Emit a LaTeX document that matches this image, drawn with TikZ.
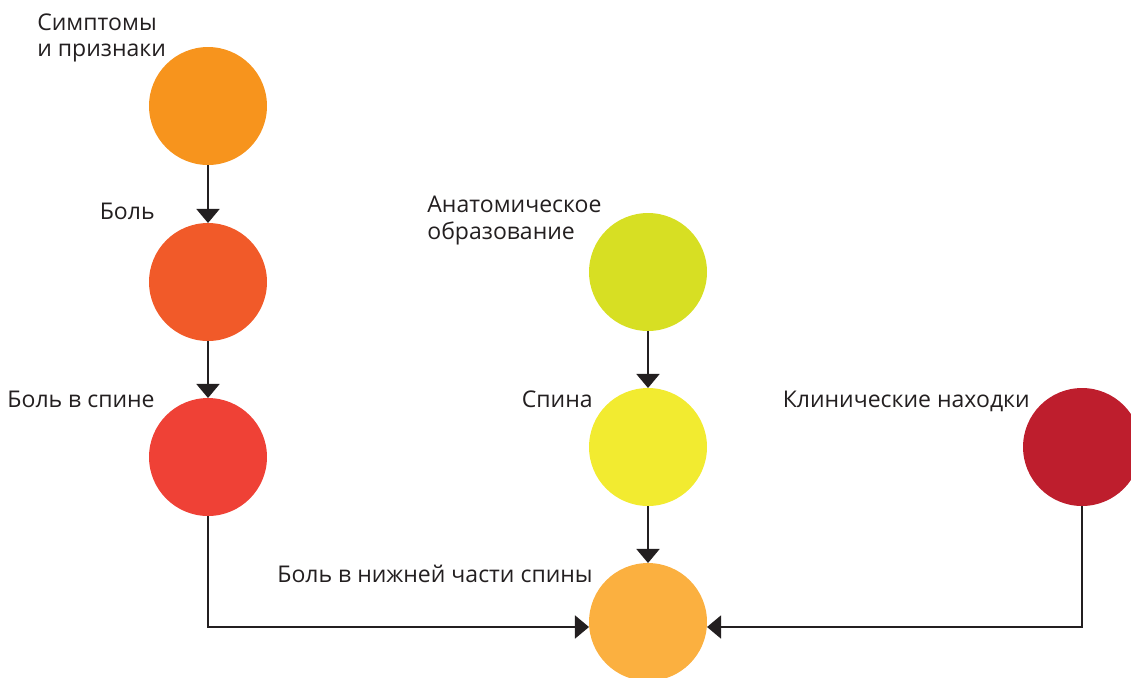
\documentclass[tikz,border=0pt]{standalone}
\usepackage{fontspec}
\setmainfont{Open Sans}
\usetikzlibrary{arrows.meta,positioning}
\definecolor{ink}{HTML}{231F20}
\definecolor{symp}{HTML}{F7941D}
\definecolor{pain}{HTML}{F15A29}
\definecolor{back}{HTML}{EF4136}
\definecolor{anat}{HTML}{D7DF23}
\definecolor{spine}{HTML}{F2EB30}
\definecolor{lowb}{HTML}{FBB040}
\definecolor{clin}{HTML}{BE1E2D}
\tikzset{
  >={Triangle[width=13pt,length=8pt]},
  dot/.style={circle,fill=#1,minimum size=2.36cm,inner sep=0pt,outer sep=0pt},
  tag/.style={font=\fontsize{13.1}{15.3}\selectfont,text=ink,align=left,inner sep=0pt},
  flow/.style={->,draw=ink,line width=1.4pt},
}
\begin{document}
\begin{tikzpicture}[x=0.02cm,y=-0.02cm]
  \useasboundingbox (0,0) rectangle (1131,677);
  % left column
  \node[dot=symp] (symp) at (208,106) {};
  \node[dot=pain] (pain) at (208,282) {};
  \node[dot=back] (back) at (208,457) {};
  % middle column
  \node[dot=anat] (anat) at (648,272) {};
  \node[dot=spine] (spine) at (648,447) {};
  \node[dot=lowb] (low) at (648,622) {};
  % right
  \node[dot=clin] (clin) at (1082,447) {};
  % labels
  \node[tag,anchor=north west] (symptxt) at (37,13) {Симптомы\\и признаки};
  \node[tag,anchor=base east] (paintxt) at (155,219) {Боль};
  \node[tag,anchor=base east] (backtxt) at (155,407) {Боль в спине};
  \node[tag,anchor=north west] (anattxt) at (427,196) {Анатомическое\\образование};
  \node[tag,anchor=base east] (spinetxt) at (593,407) {Спина};
  \node[tag,anchor=base east] (clintxt) at (1030,407) {Клинические находки};
  \node[tag,anchor=base east] (lowtxt) at (593,582) {Боль в нижней части спины};
  % connectors
  \draw[flow] (symp) -- (pain);
  \draw[flow] (pain) -- (back);
  \draw[flow] (anat) -- (spine);
  \draw[flow] (spine) -- (low);
  \draw[flow] (back.south) |- ([yshift=-0.1cm]low.west);
  \draw[flow] (clin.south) |- ([yshift=-0.1cm]low.east);
\end{tikzpicture}
\end{document}
